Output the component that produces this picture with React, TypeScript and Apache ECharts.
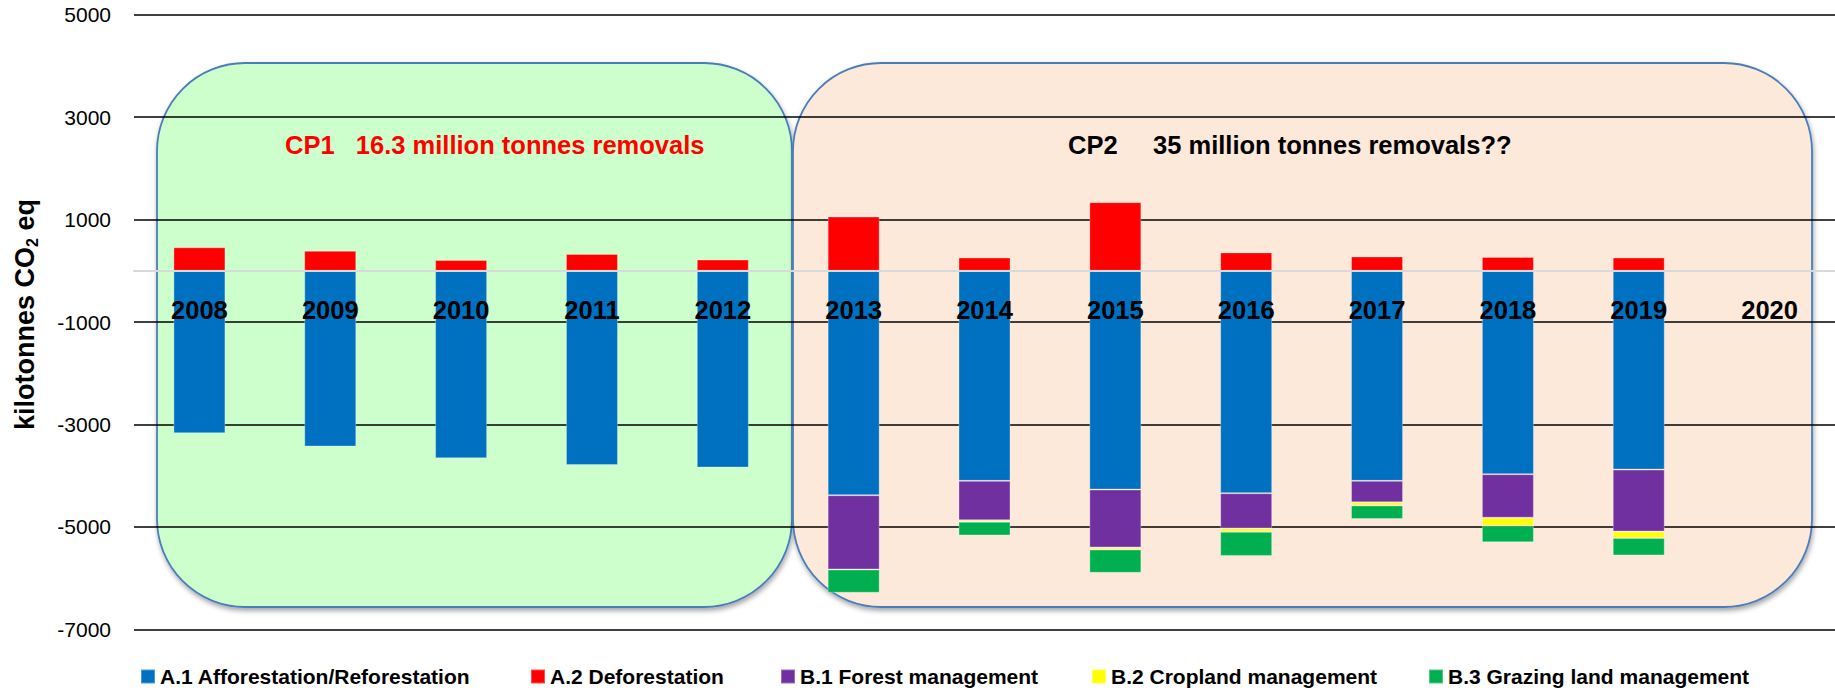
import React, { useEffect, useRef } from "react";
import * as echarts from "echarts";

// ---- data ----
const years = ["2008", "2009", "2010", "2011", "2012", "2013", "2014", "2015", "2016", "2017", "2018", "2019", "2020"];
const afforestation = [-3170, -3430, -3660, -3790, -3840, -4380, -4100, -4270, -4340, -4100, -3970, -3880, null];
const deforestation = [460, 390, 210, 330, 220, 1060, 260, 1340, 360, 280, 270, 260, null];
const forestManagement = [null, null, null, null, null, -1450, -770, -1130, -690, -420, -850, -1210, null];
const croplandManagement = [null, null, null, null, null, 20, -30, -40, -65, -60, -155, -125, null];
const grazingManagement = [null, null, null, null, null, -455, -265, -455, -470, -265, -325, -340, null];

const seriesNames = [
  "A.1 Afforestation/Reforestation",
  "A.2 Deforestation",
  "B.1 Forest management",
  "B.2 Cropland management",
  "B.3 Grazing land management",
];
const seriesData = [afforestation, deforestation, forestManagement, croplandManagement, grazingManagement];
const seriesColors = ["#0070C0", "#FF0000", "#7030A0", "#FFFF00", "#00B050"];

const yMin = -7000;
const yMax = 5000;
const yInterval = 2000;

const cp1Text = "CP1   16.3 million tonnes removals";
const cp2Text = "CP2     35 million tonnes removals??";

// layout (not data)
const legendLefts = [140, 530, 780, 1091, 1428];
const FONT = "Liberation Sans";
const GRID_TOP = 14.7;
const GRID_BOTTOM = 60.6;
const CHART_H = 690;

export default function App() {
  const ref = useRef<HTMLDivElement>(null);

  useEffect(() => {
    if (!ref.current) return;
    const chart = echarts.init(ref.current, undefined, { renderer: "svg" });
    const plotH = CHART_H - GRID_TOP - GRID_BOTTOM;
    const zeroFromBottom = (plotH * (0 - yMin)) / (yMax - yMin);
    const option: any = {
      animation: false,
      backgroundColor: "#ffffff",
      textStyle: { fontFamily: FONT },
      grid: { left: 134, right: 0, top: GRID_TOP, bottom: GRID_BOTTOM, containLabel: false },
      xAxis: {
        type: "category",
        data: years,
        z: 5,
        axisLine: { onZero: true, lineStyle: { color: "#D9D9D9", width: 2 } },
        axisTick: { show: false },
        splitLine: { show: false },
        axisLabel: {
          interval: 0,
          margin: 26 - zeroFromBottom,
          fontSize: 25.5,
          fontWeight: "bold",
          color: "#000000",
          fontFamily: FONT,
        },
      },
      yAxis: {
        type: "value",
        min: yMin,
        max: yMax,
        interval: yInterval,
        name: "{a|kilotonnes CO}{b|2}{a| eq}",
        nameLocation: "middle",
        nameRotate: 90,
        nameGap: 94,
        nameTextStyle: {
          padding: [0, 0, 0, 15],
          rich: {
            a: { fontSize: 27, fontWeight: "bold", color: "#000", fontFamily: FONT, lineHeight: 30 },
            b: { fontSize: 16, fontWeight: "bold", color: "#000", fontFamily: FONT, lineHeight: 16, padding: [14, 0, 0, 0], verticalAlign: "bottom" },
          },
        },
        axisLine: { show: false },
        axisTick: { show: false },
        axisLabel: { fontSize: 21, color: "#000000", margin: 23, fontFamily: FONT, formatter: (v: number) => String(v) },
        splitLine: { show: true, lineStyle: { color: "#000000", width: 1.6 } },
      },
      legend: seriesNames.map((name, i) => ({
        data: [name],
        left: legendLefts[i],
        top: 666,
        padding: 0,
        itemWidth: 14,
        itemHeight: 14,
        icon: "rect",
        selectedMode: false,
        textStyle: { fontSize: 21, fontWeight: "bold", color: "#000000", fontFamily: FONT },
      })),
      graphic: [
        {
          type: "rect",
          z: -1,
          shape: { x: 157, y: 63, width: 635, height: 544, r: 88 },
          style: {
            fill: "#CCFFCC",
            stroke: "#4A7EBB",
            lineWidth: 1.8,
            shadowBlur: 5,
            shadowOffsetX: 1,
            shadowOffsetY: 3,
            shadowColor: "rgba(0,0,0,0.35)",
          },
        },
        {
          type: "rect",
          z: -1,
          shape: { x: 793, y: 63, width: 1019, height: 544, r: 88 },
          style: {
            fill: "#FDE9D9",
            stroke: "#4A7EBB",
            lineWidth: 1.8,
            shadowBlur: 5,
            shadowOffsetX: 1,
            shadowOffsetY: 3,
            shadowColor: "rgba(0,0,0,0.35)",
          },
        },
        {
          type: "text",
          z: 10,
          x: 285,
          y: 145,
          style: {
            text: cp1Text,
            fill: "#FF0000",
            fontSize: 25.5,
            fontWeight: "bold",
            fontFamily: FONT,
            align: "left",
            verticalAlign: "middle",
          },
        },
        {
          type: "text",
          z: 10,
          x: 1068,
          y: 145,
          style: {
            text: cp2Text,
            fill: "#000000",
            fontSize: 25.5,
            fontWeight: "bold",
            fontFamily: FONT,
            align: "left",
            verticalAlign: "middle",
          },
        },
      ],
      series: seriesNames.map((name, i) => ({
        name,
        type: "bar",
        stack: "total",
        barWidth: 52,
        data: seriesData[i],
        itemStyle: { color: seriesColors[i], borderColor: "rgba(255,255,255,0.3)", borderWidth: 1 },
      })),
    };
    chart.setOption(option);
    return () => chart.dispose();
  }, []);

  return (
    <div
      ref={ref}
      style={{ position: "fixed", left: 0, top: 0, width: 1835, height: 690, background: "#fff" }}
    />
  );
}
